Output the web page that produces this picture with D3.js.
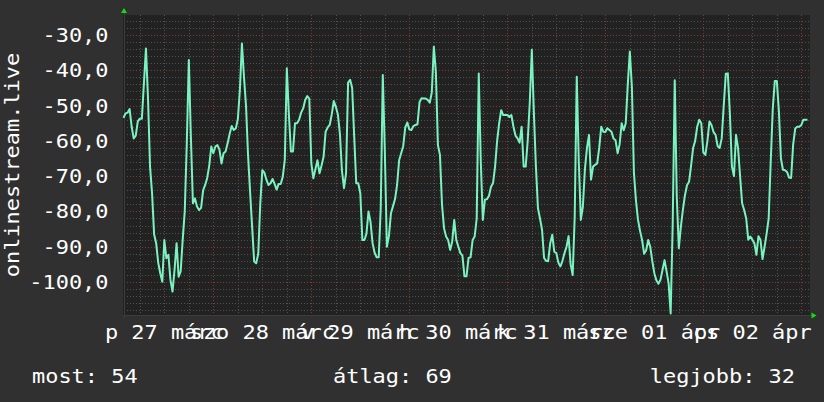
<!DOCTYPE html>
<html><head><meta charset="utf-8">
<script src="https://cdn.jsdelivr.net/npm/d3@7"></script>
<style>html,body{margin:0;padding:0;background:#303030;} svg{display:block}</style>
</head><body>
<svg id="chart" width="824" height="402"></svg>
<script>
// ---- data (one every 30 minutes) ----
const seriesName = "onlinestream.live";
const startUTC = [2015, 2, 27, 2, 0];   // 27 March 02:00
const endUTC   = [2015, 3, 3, 2, 0];    // 3 April 02:00
const stepMinutes = 30;
const values = [
-53.5,-52.2,-52.0,-51.0,-56.0,-59.3,-58.5,-54.5,-53.7,-53.7,
-43.7,-33.8,-47.9,-67.3,-74.9,-86.5,-89.0,-94.5,-97.5,-99.9,
-88.1,-93.3,-92.3,-99.4,-102.7,-96.6,-89.0,-98.5,-97.0,-88.0,
-80.0,-60.7,-37.1,-58.8,-77.7,-76.3,-78.6,-79.6,-79.0,-74.0,
-72.5,-70.5,-67.0,-61.6,-63.5,-61.6,-61.2,-62.5,-66.4,-63.5,
-63.0,-60.7,-58.0,-55.8,-56.9,-56.5,-53.9,-45.6,-32.4,-41.8,
-50.0,-64.0,-74.4,-84.3,-94.2,-94.7,-92.0,-77.7,-68.3,-69.0,
-71.0,-72.5,-72.0,-70.8,-72.2,-73.8,-72.2,-72.2,-70.2,-65.4,
-39.4,-52.5,-63.0,-63.0,-55.0,-55.0,-54.0,-52.0,-50.8,-48.4,
-47.3,-48.0,-66.4,-70.6,-68.0,-65.5,-69.2,-67.0,-64.5,-57.4,
-56.2,-55.5,-52.5,-48.7,-50.3,-52.5,-58.0,-68.5,-73.4,-69.2,
-43.5,-42.7,-45.0,-58.8,-72.0,-72.0,-74.9,-88.1,-88.1,-86.3,
-80.0,-83.0,-89.0,-91.7,-93.0,-93.0,-79.0,-41.3,-63.0,-90.0,
-87.0,-80.5,-78.5,-76.5,-72.5,-65.5,-63.5,-61.5,-56.2,-54.8,
-56.8,-56.9,-55.8,-55.5,-55.3,-49.0,-47.9,-48.0,-48.0,-48.4,
-49.2,-46.3,-33.3,-40.5,-61.2,-64.0,-78.0,-84.8,-87.1,-88.1,
-90.9,-88.5,-82.4,-88.1,-90.0,-91.8,-92.5,-98.4,-98.4,-93.2,
-93.0,-88.1,-87.1,-82.0,-40.9,-65.9,-82.4,-76.7,-76.5,-75.6,
-73.0,-72.0,-67.3,-60.0,-55.0,-51.3,-52.7,-52.7,-52.7,-53.2,
-52.7,-56.0,-58.5,-59.3,-60.5,-56.0,-67.3,-67.3,-59.8,-49.0,
-34.2,-52.0,-67.3,-79.1,-82.0,-85.2,-93.2,-94.0,-94.1,-89.0,
-86.6,-91.4,-91.8,-94.5,-95.6,-94.0,-91.8,-90.0,-87.0,-95.0,
-98.0,-81.5,-41.8,-65.9,-82.4,-78.6,-68.0,-62.0,-58.3,-71.0,
-67.3,-66.8,-66.4,-62.0,-56.0,-57.4,-57.5,-56.4,-56.9,-57.4,
-59.3,-59.8,-63.5,-61.0,-55.0,-57.0,-55.0,-44.0,-34.7,-44.6,
-69.0,-76.9,-82.4,-85.5,-88.1,-92.0,-91.0,-88.1,-90.0,-94.1,
-97.5,-99.5,-100.5,-99.4,-96.6,-93.8,-97.0,-100.4,-108.9,-83.5,
-42.8,-76.0,-90.4,-84.3,-79.5,-75.4,-72.6,-71.6,-67.0,-62.0,
-60.0,-56.0,-54.0,-55.0,-63.3,-64.0,-60.0,-54.5,-55.5,-57.5,
-58.3,-61.5,-62.0,-59.3,-50.0,-41.0,-40.9,-52.2,-67.3,-70.0,
-58.3,-62.0,-70.0,-77.7,-79.6,-82.0,-88.0,-87.1,-88.0,-89.0,
-92.3,-87.0,-88.1,-93.5,-90.0,-86.3,-82.0,-66.0,-51.0,-43.0,
-43.0,-51.5,-65.0,-68.2,-68.3,-68.8,-70.4,-70.5,-61.0,-56.5,
-56.0,-56.0,-55.5,-54.0,-54.0,-54.0
];
const yDomain = [-109.35, -24.33];
const yMajorTicks = [-100, -90, -80, -70, -60, -50, -40, -30];
const yTickLabels = ["-100,0", "-90,0", "-80,0", "-70,0", "-60,0", "-50,0", "-40,0", "-30,0"];
const yMinorStep = 2;
const dayDates = [[2015,2,27],[2015,2,28],[2015,2,29],[2015,2,30],[2015,2,31],[2015,3,1],[2015,3,2]];
const dayLabels = ["p 27 márc", "szo 28 márc", "v 29 márc", "h 30 márc", "k 31 márc", "sze 01 ápr", "cs 02 ápr"];
const legendTexts = ["most: 54", "átlag: 69", "legjobb: 32"];

// ---- drawing ----
const W = 824, H = 402;
const plot = {left: 123.5, right: 809.5, top: 15, bottom: 315};
const FONT = "DejaVu Sans Mono";
const FS = 19.5, CW = 13.2;
const C = {back: "#303030", canvas: "#222222", minor: "#505050", major: "#823838",
           line: "#7af3c0", text: "#ffffff", axis: "#3c3c3c", arrow: "#11dd11"};

const svg = d3.select("#chart");
svg.append("rect").attr("width", W).attr("height", H).attr("fill", C.back);

const t0 = new Date(Date.UTC(...startUTC));
const t1 = new Date(Date.UTC(...endUTC));
const x = d3.scaleUtc().domain([t0, t1]).range([plot.left, plot.right]);
const y = d3.scaleLinear().domain(yDomain).range([plot.bottom, plot.top]);

svg.append("rect").attr("x", plot.left - 0.5).attr("y", plot.top)
  .attr("width", plot.right - plot.left + 1).attr("height", plot.bottom - plot.top)
  .attr("fill", C.canvas);

const grid = svg.append("g").attr("shape-rendering", "crispEdges");
// horizontal minor
const yMinor = d3.range(Math.ceil(yDomain[0] / yMinorStep) * yMinorStep, yDomain[1], yMinorStep)
  .filter(v => v % 10 !== 0);
grid.selectAll(".hmin").data(yMinor).join("line")
  .attr("x1", plot.left).attr("x2", plot.right)
  .attr("y1", d => Math.round(y(d)) + 0.5).attr("y2", d => Math.round(y(d)) + 0.5)
  .attr("stroke", C.minor).attr("stroke-dasharray", "1,2");
// vertical minor (every 6h)
const vMinor = d3.utcHour.every(6).range(t0, t1).filter(d => d.getUTCHours() !== 0);
grid.selectAll(".vmin").data(vMinor).join("line")
  .attr("x1", d => Math.round(x(d)) + 0.5).attr("x2", d => Math.round(x(d)) + 0.5)
  .attr("y1", plot.top).attr("y2", plot.bottom + 2)
  .attr("stroke", C.minor).attr("stroke-dasharray", "1,2");
// horizontal major
grid.selectAll(".hmaj").data(yMajorTicks).join("line")
  .attr("x1", plot.left).attr("x2", plot.right)
  .attr("y1", d => Math.round(y(d)) + 0.5).attr("y2", d => Math.round(y(d)) + 0.5)
  .attr("stroke", C.major).attr("stroke-dasharray", "1,2");
// vertical major (midnight)
const vMajor = d3.utcDay.range(t0, t1);
grid.selectAll(".vmaj").data(vMajor).join("line")
  .attr("x1", d => Math.round(x(d)) + 0.5).attr("x2", d => Math.round(x(d)) + 0.5)
  .attr("y1", plot.top).attr("y2", plot.bottom + 3)
  .attr("stroke", C.major).attr("stroke-dasharray", "1,2");

// axes
grid.append("line").attr("x1", plot.left).attr("x2", plot.right + 2)
  .attr("y1", plot.bottom + 0.5).attr("y2", plot.bottom + 0.5).attr("stroke", C.axis);
grid.append("line").attr("x1", plot.left + 0.5).attr("x2", plot.left + 0.5)
  .attr("y1", plot.top - 2).attr("y2", plot.bottom + 3).attr("stroke", C.axis);
svg.append("path").attr("fill", C.arrow)
  .attr("d", `M${plot.left + 0.5 - 3},${plot.top - 2} L${plot.left + 0.5 + 3},${plot.top - 2} L${plot.left + 0.5},${plot.top - 7} Z`);
svg.append("path").attr("fill", C.arrow)
  .attr("d", `M${plot.right + 2},${plot.bottom + 0.5 - 3} L${plot.right + 2},${plot.bottom + 0.5 + 3} L${plot.right + 7},${plot.bottom + 0.5} Z`);

// series line
const pts = values.map((v, i) => ({t: d3.utcMinute.offset(t0, i * stepMinutes), v}));
svg.append("path").datum(pts)
  .attr("fill", "none").attr("stroke", C.line).attr("stroke-width", 2)
  .attr("stroke-linejoin", "round")
  .attr("d", d3.line().x(d => x(d.t)).y(d => y(d.v)));

// text helper
function label(str, px, py, anchor, g) {
  return (g || svg).append("text").attr("x", px).attr("y", py)
    .attr("text-anchor", anchor).attr("font-family", FONT).attr("font-size", FS)
    .attr("fill", C.text).attr("textLength", str.length * CW)
    .attr("lengthAdjust", "spacingAndGlyphs").text(str);
}
// y tick labels
yMajorTicks.forEach((v, i) => label(yTickLabels[i], 108.5, y(v) + 7, "end"));
// y title
const tg = svg.append("g").attr("transform", `translate(19,${(plot.top + plot.bottom) / 2}) rotate(-90)`);
label(seriesName, 0, 0, "middle", tg);
// x labels: centred at noon of each day (they overlap in the reference too)
dayDates.forEach((d, i) => {
  const noon = new Date(Date.UTC(d[0], d[1], d[2], 12, 0));
  label(dayLabels[i], x(noon), 338.5, "middle");
});
// legend
label(legendTexts[0], 32, 383, "start");
label(legendTexts[1], 333, 383, "start");
label(legendTexts[2], 795, 383, "end");
</script>
</body></html>
